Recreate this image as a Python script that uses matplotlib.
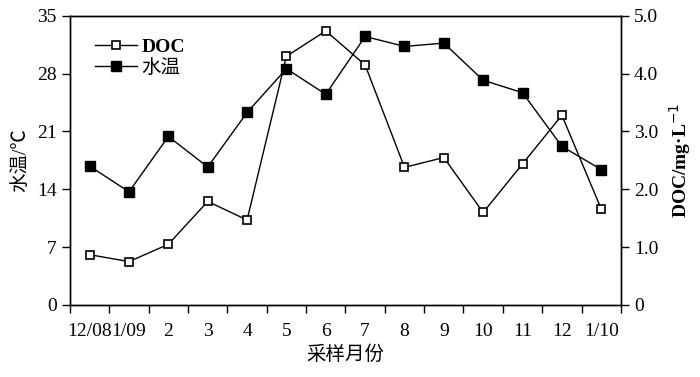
import numpy as np
import matplotlib.pyplot as plt
from matplotlib.ticker import FixedLocator, NullFormatter

plt.rcParams['font.family'] = ['Liberation Serif', 'Noto Sans CJK SC']
plt.rcParams['axes.unicode_minus'] = False

# month labels and values
months = ["12/08", "1/09", "2", "3", "4", "5", "6", "7", "8", "9", "10", "11", "12", "1/10"]
water_temp = [16.8, 13.7, 20.4, 16.7, 23.3, 28.6, 25.5, 32.5, 31.3, 31.7, 27.2, 25.7, 19.2, 16.4]
doc = [0.87, 0.75, 1.05, 1.79, 1.47, 4.30, 4.74, 4.15, 2.38, 2.55, 1.60, 2.44, 3.28, 1.66]

x = np.arange(len(months)) + 0.5

fig = plt.figure(figsize=(7, 3.77), dpi=100)
ax = fig.add_axes([0.1, 0.191, 0.787, 0.767])
ax2 = ax.twinx()

# DOC on the right axis, open squares
l1, = ax2.plot(x, doc, color="black", lw=1, marker="s", ms=6,
               mfc="white", mec="black", mew=1.2, label="DOC")
# water temperature on the left axis, filled squares
l2, = ax.plot(x, water_temp, color="black", lw=1, marker="s", ms=6.5,
              mfc="black", mec="black", label="水温")

ax.set_xlim(0, len(months))
ax.set_ylim(0, 35)
ax.set_yticks([0, 7, 14, 21, 28, 35])
ax2.set_ylim(0, 5.0)
ax2.set_yticks([0, 1, 2, 3, 4, 5])
ax2.set_yticklabels(["0", "1.0", "2.0", "3.0", "4.0", "5.0"])

# tick marks between months, labels centred on each month
ax.xaxis.set_major_locator(FixedLocator(np.arange(len(months) + 1)))
ax.xaxis.set_major_formatter(NullFormatter())
ax.xaxis.set_minor_locator(FixedLocator(x))
ax.set_xticklabels(months, minor=True)
ax.tick_params(axis="x", which="minor", length=0, pad=13, labelsize=14)
ax.tick_params(axis="x", which="major", direction="out", length=6, width=1)
ax.tick_params(axis="y", direction="out", length=6, width=1, labelsize=14)
ax2.tick_params(axis="y", direction="out", length=6, width=1, labelsize=14)

for a in (ax, ax2):
    for s in a.spines.values():
        s.set_linewidth(1)

ax.set_ylabel("水温/℃", fontsize=14, labelpad=6)
ax2.set_ylabel("DOC/mg·L$^{-1}$", fontsize=14, fontweight="bold", labelpad=6)
ax.set_xlabel("采样月份", fontsize=14, labelpad=4)

leg = ax.legend([l1, l2], ["DOC", "水温"], loc="upper left", frameon=False,
                handlelength=2.2, handletextpad=0.2,
                borderaxespad=0.3, labelspacing=0.15, bbox_to_anchor=(0.02, 0.97),
                prop={"size": 14})
leg.get_texts()[0].set_fontweight("bold")

fig.savefig("out.png", dpi=100)
